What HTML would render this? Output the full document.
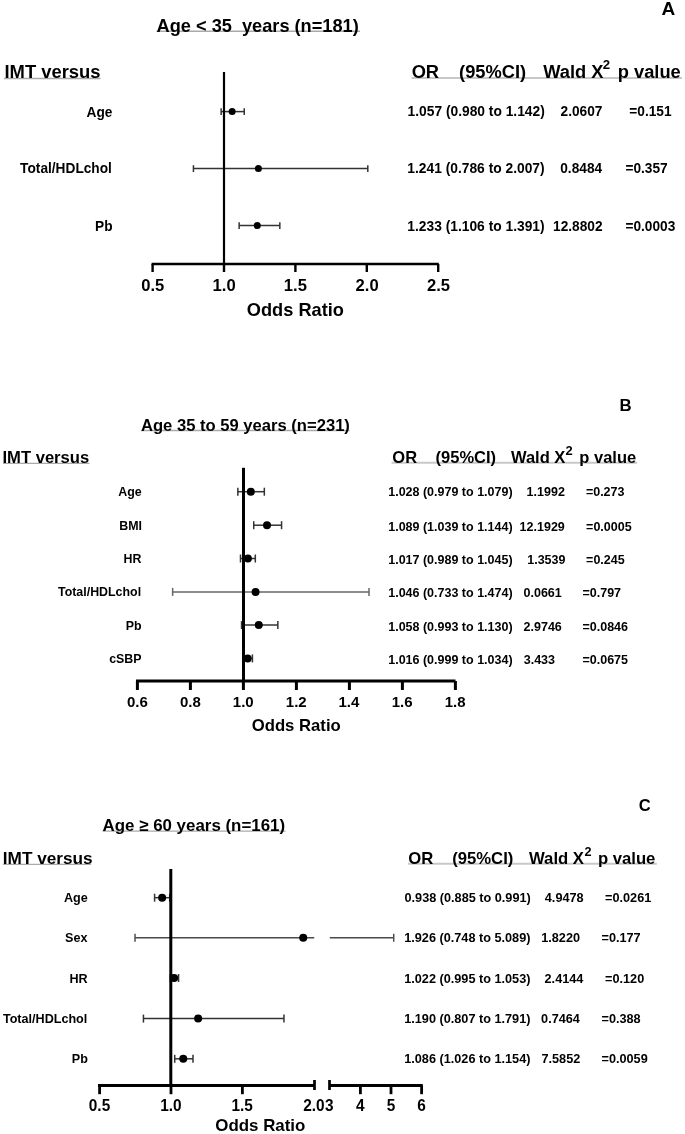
<!DOCTYPE html>
<html><head><meta charset="utf-8"><title>Forest plots</title>
<style>
html,body{margin:0;padding:0;background:#fff;}
body{width:685px;height:1134px;overflow:hidden;}
svg{display:block;}
svg text{font-family:"Liberation Sans", Arial, Helvetica, sans-serif;font-weight:bold;white-space:pre;}
</style></head>
<body>
<svg width="685" height="1134" viewBox="0 0 685 1134">
<rect width="685" height="1134" fill="#fff"/>
<line x1="156.50" y1="31.30" x2="360.00" y2="31.30" stroke="#aaa" stroke-width="1.4"/>
<line x1="4.00" y1="78.50" x2="100.50" y2="78.50" stroke="#aaa" stroke-width="1.4"/>
<line x1="411.50" y1="77.90" x2="682.00" y2="77.90" stroke="#c8c8c8" stroke-width="2.0"/>
<line x1="141.00" y1="430.50" x2="349.50" y2="430.50" stroke="#aaa" stroke-width="1.4"/>
<line x1="3.00" y1="463.40" x2="89.50" y2="463.40" stroke="#aaa" stroke-width="1.4"/>
<line x1="391.60" y1="462.70" x2="637.20" y2="462.70" stroke="#c8c8c8" stroke-width="2.0"/>
<line x1="102.50" y1="831.10" x2="285.50" y2="831.10" stroke="#aaa" stroke-width="1.4"/>
<line x1="3.00" y1="864.40" x2="91.00" y2="864.40" stroke="#aaa" stroke-width="1.4"/>
<line x1="408.00" y1="863.80" x2="656.80" y2="863.80" stroke="#c8c8c8" stroke-width="2.0"/>
<text x="661.53" y="14.50" font-size="19.0" fill="#000">A</text>
<text x="156.55" y="31.80" font-size="18.2" fill="#000">Age &lt; 35  years (n=181)</text>
<text x="4.47" y="78.40" font-size="18.4" fill="#000">IMT versus</text>
<text x="411.65" y="77.60" font-size="18.3" fill="#000">OR</text>
<text x="459.09" y="77.60" font-size="18.3" fill="#000">(95%CI)</text>
<text x="543.28" y="77.60" font-size="18.3" fill="#000">Wald X</text>
<text x="602.64" y="69.30" font-size="13.2" fill="#000">2</text>
<text x="617.79" y="77.60" font-size="18.3" fill="#000">p value</text>
<text x="86.59" y="116.70" font-size="13.7" fill="#000" transform="matrix(1 0 0 1.08 0 -9.336)">Age</text>
<text x="20.12" y="173.50" font-size="13.7" fill="#000" transform="matrix(1 0 0 1.08 0 -13.880)">Total/HDLchol</text>
<text x="95.06" y="230.70" font-size="13.7" fill="#000" transform="matrix(1 0 0 1.08 0 -18.456)">Pb</text>
<text x="407.53" y="116.00" font-size="13.8" fill="#000" transform="matrix(1 0 0 1.08 0 -9.280)">1.057 (0.980 to 1.142)</text>
<text x="560.53" y="116.00" font-size="13.7" fill="#000" transform="matrix(1 0 0 1.08 0 -9.280)">2.0607</text>
<text x="629.33" y="116.00" font-size="13.7" fill="#000" transform="matrix(1 0 0 1.08 0 -9.280)">=0.151</text>
<text x="407.33" y="173.00" font-size="13.8" fill="#000" transform="matrix(1 0 0 1.08 0 -13.840)">1.241 (0.786 to 2.007)</text>
<text x="560.26" y="173.00" font-size="13.7" fill="#000" transform="matrix(1 0 0 1.08 0 -13.840)">0.8484</text>
<text x="625.43" y="173.00" font-size="13.7" fill="#000" transform="matrix(1 0 0 1.08 0 -13.840)">=0.357</text>
<text x="407.33" y="230.80" font-size="13.8" fill="#000" transform="matrix(1 0 0 1.08 0 -18.464)">1.233 (1.106 to 1.391)</text>
<text x="553.04" y="230.80" font-size="13.7" fill="#000" transform="matrix(1 0 0 1.08 0 -18.464)">12.8802</text>
<text x="625.43" y="230.80" font-size="13.7" fill="#000" transform="matrix(1 0 0 1.08 0 -18.464)">=0.0003</text>
<line x1="151.60" y1="264.00" x2="438.80" y2="264.00" stroke="#000" stroke-width="2.6"/>
<line x1="152.60" y1="264.00" x2="152.60" y2="272.00" stroke="#000" stroke-width="2.4"/>
<text x="141.26" y="291.40" font-size="16.6" fill="#000">0.5</text>
<line x1="224.00" y1="264.00" x2="224.00" y2="272.00" stroke="#000" stroke-width="2.4"/>
<text x="212.58" y="291.40" font-size="16.6" fill="#000">1.0</text>
<line x1="295.40" y1="264.00" x2="295.40" y2="272.00" stroke="#000" stroke-width="2.4"/>
<text x="283.87" y="291.40" font-size="16.6" fill="#000">1.5</text>
<line x1="366.80" y1="264.00" x2="366.80" y2="272.00" stroke="#000" stroke-width="2.4"/>
<text x="355.61" y="291.40" font-size="16.6" fill="#000">2.0</text>
<line x1="438.20" y1="264.00" x2="438.20" y2="272.00" stroke="#000" stroke-width="2.4"/>
<text x="426.91" y="291.40" font-size="16.6" fill="#000">2.5</text>
<text x="246.85" y="316.40" font-size="18.2" fill="#000">Odds Ratio</text>
<line x1="221.14" y1="111.60" x2="244.28" y2="111.60" stroke="#333" stroke-width="1.5"/>
<line x1="221.14" y1="108.20" x2="221.14" y2="115.00" stroke="#333" stroke-width="1.5"/>
<line x1="244.28" y1="108.20" x2="244.28" y2="115.00" stroke="#333" stroke-width="1.5"/>
<circle cx="232.14" cy="111.60" r="3.5" fill="#000"/>
<line x1="193.44" y1="168.60" x2="367.80" y2="168.60" stroke="#333" stroke-width="1.5"/>
<line x1="193.44" y1="165.20" x2="193.44" y2="172.00" stroke="#333" stroke-width="1.5"/>
<line x1="367.80" y1="165.20" x2="367.80" y2="172.00" stroke="#333" stroke-width="1.5"/>
<circle cx="258.41" cy="168.60" r="3.5" fill="#000"/>
<line x1="239.14" y1="225.60" x2="279.83" y2="225.60" stroke="#333" stroke-width="1.5"/>
<line x1="239.14" y1="222.20" x2="239.14" y2="229.00" stroke="#333" stroke-width="1.5"/>
<line x1="279.83" y1="222.20" x2="279.83" y2="229.00" stroke="#333" stroke-width="1.5"/>
<circle cx="257.27" cy="225.60" r="3.5" fill="#000"/>
<text x="619.38" y="410.90" font-size="16.8" fill="#000">B</text>
<text x="140.99" y="431.10" font-size="16.6" fill="#000">Age 35 to 59 years (n=231)</text>
<text x="2.49" y="463.00" font-size="16.6" fill="#000">IMT versus</text>
<text x="392.32" y="462.60" font-size="16.5" fill="#000">OR</text>
<text x="435.58" y="462.60" font-size="16.5" fill="#000">(95%CI)</text>
<text x="510.98" y="462.60" font-size="16.5" fill="#000">Wald X</text>
<text x="565.55" y="455.10" font-size="12.9" fill="#000">2</text>
<text x="579.31" y="462.60" font-size="16.5" fill="#000">p value</text>
<text x="118.20" y="495.90" font-size="12.4" fill="#000">Age</text>
<text x="119.30" y="530.00" font-size="12.4" fill="#000">BMI</text>
<text x="123.54" y="563.40" font-size="12.4" fill="#000">HR</text>
<text x="58.04" y="596.20" font-size="12.4" fill="#000">Total/HDLchol</text>
<text x="125.86" y="630.20" font-size="12.4" fill="#000">Pb</text>
<text x="109.23" y="663.10" font-size="12.4" fill="#000">cSBP</text>
<text x="388.21" y="496.40" font-size="12.5" fill="#000">1.028 (0.979 to 1.079)</text>
<text x="526.61" y="496.40" font-size="12.5" fill="#000">1.1992</text>
<text x="585.88" y="496.40" font-size="12.5" fill="#000">=0.273</text>
<text x="388.21" y="530.50" font-size="12.5" fill="#000">1.089 (1.039 to 1.144)</text>
<text x="519.61" y="530.50" font-size="12.5" fill="#000">12.1929</text>
<text x="586.08" y="530.50" font-size="12.5" fill="#000">=0.0005</text>
<text x="388.21" y="563.90" font-size="12.5" fill="#000">1.017 (0.989 to 1.045)</text>
<text x="527.21" y="563.90" font-size="12.5" fill="#000">1.3539</text>
<text x="586.08" y="563.90" font-size="12.5" fill="#000">=0.245</text>
<text x="388.21" y="596.70" font-size="12.5" fill="#000">1.046 (0.733 to 1.474)</text>
<text x="523.51" y="596.70" font-size="12.5" fill="#000">0.0661</text>
<text x="582.48" y="596.70" font-size="12.5" fill="#000">=0.797</text>
<text x="388.21" y="630.70" font-size="12.5" fill="#000">1.058 (0.993 to 1.130)</text>
<text x="523.57" y="630.70" font-size="12.5" fill="#000">2.9746</text>
<text x="582.48" y="630.70" font-size="12.5" fill="#000">=0.0846</text>
<text x="388.21" y="663.60" font-size="12.5" fill="#000">1.016 (0.999 to 1.034)</text>
<text x="523.71" y="663.60" font-size="12.5" fill="#000">3.433</text>
<text x="582.48" y="663.60" font-size="12.5" fill="#000">=0.0675</text>
<line x1="136.00" y1="681.00" x2="455.50" y2="681.00" stroke="#000" stroke-width="3"/>
<line x1="137.40" y1="681.00" x2="137.40" y2="690.00" stroke="#000" stroke-width="3"/>
<text x="126.95" y="706.60" font-size="15.0" fill="#000">0.6</text>
<line x1="190.40" y1="681.00" x2="190.40" y2="690.00" stroke="#000" stroke-width="3"/>
<text x="179.91" y="706.60" font-size="15.0" fill="#000">0.8</text>
<line x1="243.40" y1="681.00" x2="243.40" y2="690.00" stroke="#000" stroke-width="3"/>
<text x="232.81" y="706.60" font-size="15.0" fill="#000">1.0</text>
<line x1="296.40" y1="681.00" x2="296.40" y2="690.00" stroke="#000" stroke-width="3"/>
<text x="285.80" y="706.60" font-size="15.0" fill="#000">1.2</text>
<line x1="349.40" y1="681.00" x2="349.40" y2="690.00" stroke="#000" stroke-width="3"/>
<text x="338.54" y="706.60" font-size="15.0" fill="#000">1.4</text>
<line x1="402.40" y1="681.00" x2="402.40" y2="690.00" stroke="#000" stroke-width="3"/>
<text x="391.77" y="706.60" font-size="15.0" fill="#000">1.6</text>
<line x1="455.40" y1="681.00" x2="455.40" y2="690.00" stroke="#000" stroke-width="3"/>
<text x="444.73" y="706.60" font-size="15.0" fill="#000">1.8</text>
<text x="251.72" y="730.60" font-size="16.7" fill="#000">Odds Ratio</text>
<line x1="237.84" y1="491.70" x2="264.33" y2="491.70" stroke="#333" stroke-width="1.5"/>
<line x1="237.84" y1="487.70" x2="237.84" y2="495.70" stroke="#333" stroke-width="1.5"/>
<line x1="264.33" y1="487.70" x2="264.33" y2="495.70" stroke="#333" stroke-width="1.5"/>
<circle cx="250.82" cy="491.70" r="4" fill="#000"/>
<line x1="253.73" y1="525.20" x2="281.56" y2="525.20" stroke="#333" stroke-width="1.5"/>
<line x1="253.73" y1="521.20" x2="253.73" y2="529.20" stroke="#333" stroke-width="1.5"/>
<line x1="281.56" y1="521.20" x2="281.56" y2="529.20" stroke="#333" stroke-width="1.5"/>
<circle cx="266.99" cy="525.20" r="4" fill="#000"/>
<line x1="240.49" y1="558.50" x2="255.32" y2="558.50" stroke="#333" stroke-width="1.5"/>
<line x1="240.49" y1="554.50" x2="240.49" y2="562.50" stroke="#333" stroke-width="1.5"/>
<line x1="255.32" y1="554.50" x2="255.32" y2="562.50" stroke="#333" stroke-width="1.5"/>
<circle cx="247.90" cy="558.50" r="4" fill="#000"/>
<line x1="172.64" y1="591.90" x2="369.01" y2="591.90" stroke="#666" stroke-width="1.5"/>
<line x1="172.64" y1="587.90" x2="172.64" y2="595.90" stroke="#666" stroke-width="1.5"/>
<line x1="369.01" y1="587.90" x2="369.01" y2="595.90" stroke="#666" stroke-width="1.5"/>
<circle cx="255.59" cy="591.90" r="4" fill="#000"/>
<line x1="241.55" y1="625.10" x2="277.85" y2="625.10" stroke="#333" stroke-width="1.5"/>
<line x1="241.55" y1="621.10" x2="241.55" y2="629.10" stroke="#333" stroke-width="1.5"/>
<line x1="277.85" y1="621.10" x2="277.85" y2="629.10" stroke="#333" stroke-width="1.5"/>
<circle cx="258.77" cy="625.10" r="4" fill="#000"/>
<line x1="243.14" y1="658.40" x2="252.41" y2="658.40" stroke="#333" stroke-width="1.5"/>
<line x1="243.14" y1="654.40" x2="243.14" y2="662.40" stroke="#333" stroke-width="1.5"/>
<line x1="252.41" y1="654.40" x2="252.41" y2="662.40" stroke="#333" stroke-width="1.5"/>
<circle cx="247.64" cy="658.40" r="4" fill="#000"/>
<text x="638.82" y="811.00" font-size="16.5" fill="#000">C</text>
<text x="102.58" y="831.20" font-size="16.9" fill="#000">Age ≥ 60 years (n=161)</text>
<text x="2.85" y="864.10" font-size="17.2" fill="#000">IMT versus</text>
<text x="408.32" y="864.20" font-size="16.7" fill="#000">OR</text>
<text x="452.17" y="864.20" font-size="16.7" fill="#000">(95%CI)</text>
<text x="528.98" y="864.20" font-size="16.7" fill="#000">Wald X</text>
<text x="584.56" y="855.80" font-size="12.7" fill="#000">2</text>
<text x="597.90" y="864.20" font-size="16.7" fill="#000">p value</text>
<text x="64.03" y="902.20" font-size="12.6" fill="#000">Age</text>
<text x="65.07" y="942.40" font-size="12.6" fill="#000">Sex</text>
<text x="69.46" y="982.70" font-size="12.6" fill="#000">HR</text>
<text x="2.90" y="1022.70" font-size="12.6" fill="#000">Total/HDLchol</text>
<text x="71.82" y="1062.50" font-size="12.6" fill="#000">Pb</text>
<text x="404.50" y="902.20" font-size="12.7" fill="#000">0.938 (0.885 to 0.991)</text>
<text x="544.81" y="902.20" font-size="12.7" fill="#000">4.9478</text>
<text x="605.07" y="902.20" font-size="12.7" fill="#000">=0.0261</text>
<text x="404.20" y="942.40" font-size="12.7" fill="#000">1.926 (0.748 to 5.089)</text>
<text x="541.20" y="942.40" font-size="12.7" fill="#000">1.8220</text>
<text x="601.47" y="942.40" font-size="12.7" fill="#000">=0.177</text>
<text x="404.20" y="982.70" font-size="12.7" fill="#000">1.022 (0.995 to 1.053)</text>
<text x="544.56" y="982.70" font-size="12.7" fill="#000">2.4144</text>
<text x="605.07" y="982.70" font-size="12.7" fill="#000">=0.120</text>
<text x="404.20" y="1022.70" font-size="12.7" fill="#000">1.190 (0.807 to 1.791)</text>
<text x="541.10" y="1022.70" font-size="12.7" fill="#000">0.7464</text>
<text x="601.47" y="1022.70" font-size="12.7" fill="#000">=0.388</text>
<text x="404.20" y="1062.50" font-size="12.7" fill="#000">1.086 (1.026 to 1.154)</text>
<text x="541.45" y="1062.50" font-size="12.7" fill="#000">7.5852</text>
<text x="601.47" y="1062.50" font-size="12.7" fill="#000">=0.0059</text>
<line x1="98.00" y1="1085.60" x2="314.50" y2="1085.60" stroke="#000" stroke-width="3"/>
<line x1="329.30" y1="1085.60" x2="422.80" y2="1085.60" stroke="#000" stroke-width="3"/>
<line x1="314.50" y1="1080.00" x2="314.50" y2="1090.00" stroke="#000" stroke-width="2.7"/>
<line x1="329.50" y1="1080.00" x2="329.50" y2="1090.00" stroke="#000" stroke-width="2.7"/>
<line x1="99.60" y1="1085.60" x2="99.60" y2="1094.20" stroke="#000" stroke-width="2.8"/>
<text x="88.81" y="1111.40" font-size="15.4" fill="#000" transform="matrix(1 0 0 1.02 0 -22.228)">0.5</text>
<line x1="171.00" y1="1085.60" x2="171.00" y2="1094.20" stroke="#000" stroke-width="2.8"/>
<text x="160.13" y="1111.40" font-size="15.4" fill="#000" transform="matrix(1 0 0 1.02 0 -22.228)">1.0</text>
<line x1="242.40" y1="1085.60" x2="242.40" y2="1094.20" stroke="#000" stroke-width="2.8"/>
<text x="231.43" y="1111.40" font-size="15.4" fill="#000" transform="matrix(1 0 0 1.02 0 -22.228)">1.5</text>
<line x1="360.40" y1="1085.60" x2="360.40" y2="1094.20" stroke="#000" stroke-width="2.8"/>
<text x="356.04" y="1111.40" font-size="15.4" fill="#000" transform="matrix(1 0 0 1.02 0 -22.228)">4</text>
<line x1="391.00" y1="1085.60" x2="391.00" y2="1094.20" stroke="#000" stroke-width="2.8"/>
<text x="386.70" y="1111.40" font-size="15.4" fill="#000" transform="matrix(1 0 0 1.02 0 -22.228)">5</text>
<line x1="421.60" y1="1085.60" x2="421.60" y2="1094.20" stroke="#000" stroke-width="2.8"/>
<text x="417.31" y="1111.40" font-size="15.4" fill="#000" transform="matrix(1 0 0 1.02 0 -22.228)">6</text>
<text x="303.24" y="1111.40" font-size="15.4" fill="#000" transform="matrix(1 0 0 1.02 0 -22.228)">2.0</text>
<text x="325.02" y="1111.40" font-size="15.4" fill="#000" transform="matrix(1 0 0 1.02 0 -22.228)">3</text>
<text x="215.31" y="1130.60" font-size="16.9" fill="#000">Odds Ratio</text>
<line x1="154.58" y1="897.70" x2="169.71" y2="897.70" stroke="#333" stroke-width="1.5"/>
<line x1="154.58" y1="893.70" x2="154.58" y2="901.70" stroke="#333" stroke-width="1.5"/>
<line x1="169.71" y1="893.70" x2="169.71" y2="901.70" stroke="#333" stroke-width="1.5"/>
<circle cx="162.15" cy="897.70" r="4" fill="#000"/>
<line x1="135.01" y1="937.80" x2="314.20" y2="937.80" stroke="#4a4a4a" stroke-width="1.45"/>
<line x1="329.80" y1="937.80" x2="393.72" y2="937.80" stroke="#4a4a4a" stroke-width="1.45"/>
<line x1="135.01" y1="933.80" x2="135.01" y2="941.80" stroke="#4a4a4a" stroke-width="1.45"/>
<line x1="393.72" y1="933.80" x2="393.72" y2="941.80" stroke="#4a4a4a" stroke-width="1.45"/>
<circle cx="303.23" cy="937.80" r="4" fill="#000"/>
<line x1="170.29" y1="978.00" x2="178.57" y2="978.00" stroke="#333" stroke-width="1.5"/>
<line x1="170.29" y1="974.00" x2="170.29" y2="982.00" stroke="#333" stroke-width="1.5"/>
<line x1="178.57" y1="974.00" x2="178.57" y2="982.00" stroke="#333" stroke-width="1.5"/>
<circle cx="174.14" cy="978.00" r="4" fill="#000"/>
<line x1="143.44" y1="1018.60" x2="283.95" y2="1018.60" stroke="#333" stroke-width="1.5"/>
<line x1="143.44" y1="1014.60" x2="143.44" y2="1022.60" stroke="#333" stroke-width="1.5"/>
<line x1="283.95" y1="1014.60" x2="283.95" y2="1022.60" stroke="#333" stroke-width="1.5"/>
<circle cx="198.13" cy="1018.60" r="4" fill="#000"/>
<line x1="174.71" y1="1058.80" x2="192.99" y2="1058.80" stroke="#333" stroke-width="1.5"/>
<line x1="174.71" y1="1054.80" x2="174.71" y2="1062.80" stroke="#333" stroke-width="1.5"/>
<line x1="192.99" y1="1054.80" x2="192.99" y2="1062.80" stroke="#333" stroke-width="1.5"/>
<circle cx="183.28" cy="1058.80" r="4" fill="#000"/>
<line x1="224.00" y1="72.00" x2="224.00" y2="264.00" stroke="#000" stroke-width="2.2"/>
<line x1="243.50" y1="467.80" x2="243.50" y2="681.00" stroke="#000" stroke-width="3"/>
<line x1="170.80" y1="869.00" x2="170.80" y2="1085.60" stroke="#000" stroke-width="3"/>
</svg>
</body></html>
